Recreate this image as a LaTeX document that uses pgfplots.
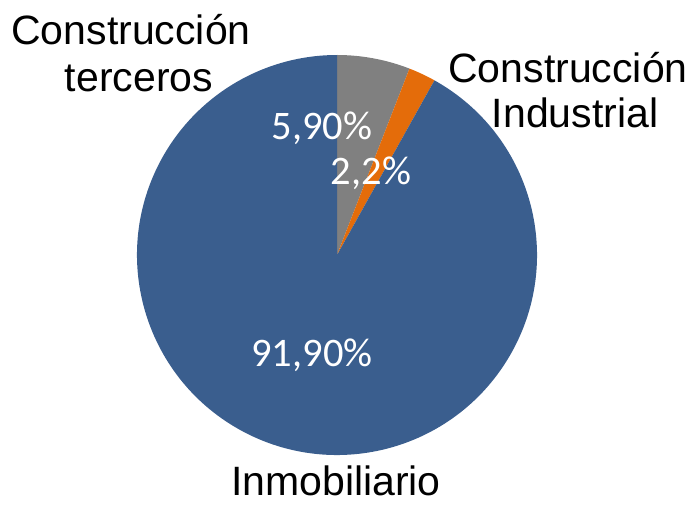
\documentclass[border=0pt]{standalone}
\usepackage{pgfplots}
\pgfplotsset{compat=1.18}
\usepackage{fontspec}
\setmainfont{Liberation Sans}
\newfontfamily\calibri{Carlito}
\definecolor{pieblue}{RGB}{58,94,142}
\definecolor{piegray}{RGB}{128,128,128}
\definecolor{pieorange}{RGB}{228,108,10}

% shares in percent
\def\terceros{5.9}
\def\industrial{2.2}
\def\inmob{91.9}

\begin{document}
\begin{tikzpicture}
\begin{axis}[
  width=694pt, height=504pt, scale only axis,
  xmin=0, xmax=694, ymin=0, ymax=504,
  hide axis, clip=false
]
\pgfmathsetmacro\aA{90-3.6*\terceros}
\pgfmathsetmacro\aB{\aA-3.6*\industrial}
\pgfmathsetmacro\aC{\aB-3.6*\inmob}
% slices, clockwise from the top
\fill[piegray] (axis cs:337,249) -- ++(90:200pt)
  arc[start angle=90, end angle=\aA, radius=200pt] -- cycle;
\fill[pieorange] (axis cs:337,249) -- ++(\aA:200pt)
  arc[start angle=\aA, end angle=\aB, radius=200pt] -- cycle;
\fill[pieblue] (axis cs:337,249) -- ++(\aB:200pt)
  arc[start angle=\aB, end angle=\aC, radius=200pt] -- cycle;

% values
\begin{scope}[every node/.style={anchor=base, text=white, inner sep=0pt,
    font=\calibri\fontsize{40.5}{46}\selectfont}]
\node at (axis cs:322,364) {5,90\%};
\node at (axis cs:371,319) {2,2\%};
\node at (axis cs:312,137) {91,90\%};
\end{scope}

% category names
\begin{scope}[every node/.style={anchor=base, inner sep=0pt,
    font=\fontsize{41}{47}\selectfont}]
\node at (axis cs:131,459) {Construcción};
\node at (axis cs:139,412) {terceros};
\node at (axis cs:568,421) {Construcción};
\node at (axis cs:575,376) {Industrial};
\node at (axis cs:336,9) {Inmobiliario};
\end{scope}
\end{axis}
\pgfresetboundingbox
\path (current axis.south west) rectangle (current axis.north east);
\end{tikzpicture}
\end{document}
